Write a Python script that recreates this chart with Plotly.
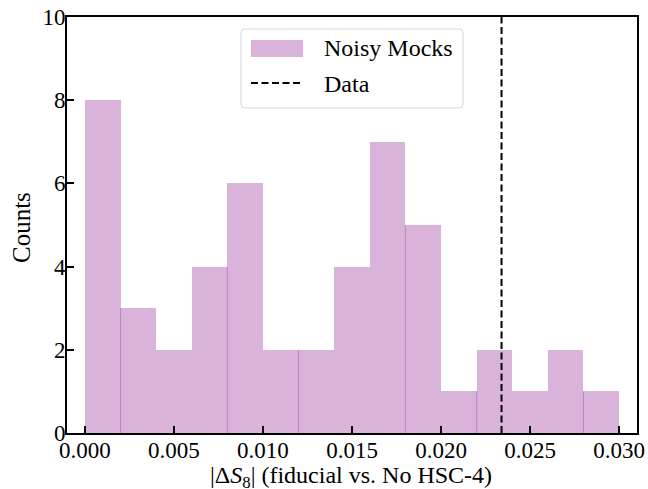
import plotly.graph_objects as go

# Histogram of |ΔS8| from the noisy mocks, plus the value measured on the data
bin_edges = [0.000, 0.002, 0.004, 0.006, 0.008, 0.010, 0.012, 0.014,
             0.016, 0.018, 0.020, 0.022, 0.024, 0.026, 0.028, 0.030]
counts = [8, 3, 2, 4, 6, 2, 2, 4, 7, 5, 1, 2, 1, 2, 1]
data_delta_s8 = 0.0234

x_tick_vals = [0.000, 0.005, 0.010, 0.015, 0.020, 0.025, 0.030]
x_tick_text = ["0.000", "0.005", "0.010", "0.015", "0.020", "0.025", "0.030"]
y_tick_vals = [0, 2, 4, 6, 8, 10]
y_tick_text = ["0", "2", "4", "6", "8", "10"]

# interior bin edges where the filled bars show a faint seam
seam_edge_index = [1, 4, 6, 9, 11, 14]

FONT = "Liberation Serif"
FILL = "#d9b3da"
SEAM = "#c383c8"

W, H = 648, 489
L, R, T, B = 67, 637, 17, 433          # plot-area box in pixels


def px(x):
    return (x - L) / (R - L)


def py(y):
    return (B - y) / (B - T)


centers = [(a + b) / 2 for a, b in zip(bin_edges[:-1], bin_edges[1:])]
widths = [b - a for a, b in zip(bin_edges[:-1], bin_edges[1:])]

fig = go.Figure()
fig.add_trace(go.Bar(
    x=centers, y=counts, width=widths,
    marker=dict(color=FILL, line=dict(width=0)),
    showlegend=False, hoverinfo="skip",
))
fig.add_trace(go.Scatter(
    x=[data_delta_s8, data_delta_s8], y=[0, 10], mode="lines",
    line=dict(color="black", width=2, dash="7px,3.5px"),
    showlegend=False, hoverinfo="skip",
))

shapes = []
for i in seam_edge_index:
    edge = bin_edges[i]
    top = min(counts[i - 1], counts[i])
    shapes.append(dict(type="line", xref="x", yref="y", x0=edge, x1=edge,
                       y0=0, y1=top, line=dict(color=SEAM, width=1),
                       layer="above"))

# legend frame with rounded corners
bx0, bx1, by0, by1, rad = 241, 463, 29, 108, 4
X0, X1 = px(bx0), px(bx1)
Y0, Y1 = py(by1), py(by0)
rx = rad / (R - L)
ry = rad / (B - T)
path = (f"M {X0+rx},{Y1} L {X1-rx},{Y1} Q {X1},{Y1} {X1},{Y1-ry} "
        f"L {X1},{Y0+ry} Q {X1},{Y0} {X1-rx},{Y0} "
        f"L {X0+rx},{Y0} Q {X0},{Y0} {X0},{Y0+ry} "
        f"L {X0},{Y1-ry} Q {X0},{Y1} {X0+rx},{Y1} Z")
shapes.append(dict(type="path", xref="paper", yref="paper", path=path,
                   fillcolor="white", line=dict(color="#d6d6d6", width=1),
                   layer="above"))
# legend handles
shapes.append(dict(type="rect", xref="paper", yref="paper",
                   x0=px(251), x1=px(303), y0=py(57), y1=py(40),
                   fillcolor=FILL, line=dict(width=0), layer="above"))
shapes.append(dict(type="line", xref="paper", yref="paper",
                   x0=px(251), x1=px(303), y0=py(83), y1=py(83),
                   line=dict(color="black", width=2, dash="7px,3.5px"),
                   layer="above"))

annotations = [
    dict(text="Noisy Mocks", xref="paper", yref="paper", x=px(322), y=py(48),
         xanchor="left", yanchor="middle", showarrow=False,
         font=dict(family=FONT, size=24, color="black")),
    dict(text="Data", xref="paper", yref="paper", x=px(322), y=py(84),
         xanchor="left", yanchor="middle", showarrow=False,
         font=dict(family=FONT, size=24, color="black")),
    dict(text="|Δ<i>S</i><sub>8</sub>| (fiducial vs. No HSC-4)",
         xref="paper", yref="paper", x=px(351), y=py(477),
         xanchor="center", yanchor="middle", showarrow=False,
         font=dict(family=FONT, size=24, color="black")),
    dict(text="Counts", xref="paper", yref="paper", x=px(21), y=py(228),
         xanchor="center", yanchor="middle", textangle=-90, showarrow=False,
         font=dict(family=FONT, size=25, color="black")),
]

axis_common = dict(
    showline=True, linecolor="black", linewidth=2, mirror=True,
    ticks="inside", ticklen=7, tickwidth=1.5, tickcolor="black",
    showgrid=False, zeroline=False, automargin=False,
    tickfont=dict(family=FONT, size=23, color="black"),
)

fig.update_layout(
    width=W, height=H,
    margin=dict(l=L, r=W - R, t=T, b=H - B, pad=0, autoexpand=False),
    paper_bgcolor="white", plot_bgcolor="white",
    bargap=0,
    xaxis=dict(range=[-0.00101, 0.03101], tickvals=x_tick_vals,
               ticktext=x_tick_text, ticklabelstandoff=-5, **axis_common),
    yaxis=dict(range=[0, 10], tickvals=y_tick_vals,
               ticktext=y_tick_text, ticklabelstandoff=-5, **axis_common),
    shapes=shapes,
    annotations=annotations,
    showlegend=False,
)

fig.write_html("out.html")
